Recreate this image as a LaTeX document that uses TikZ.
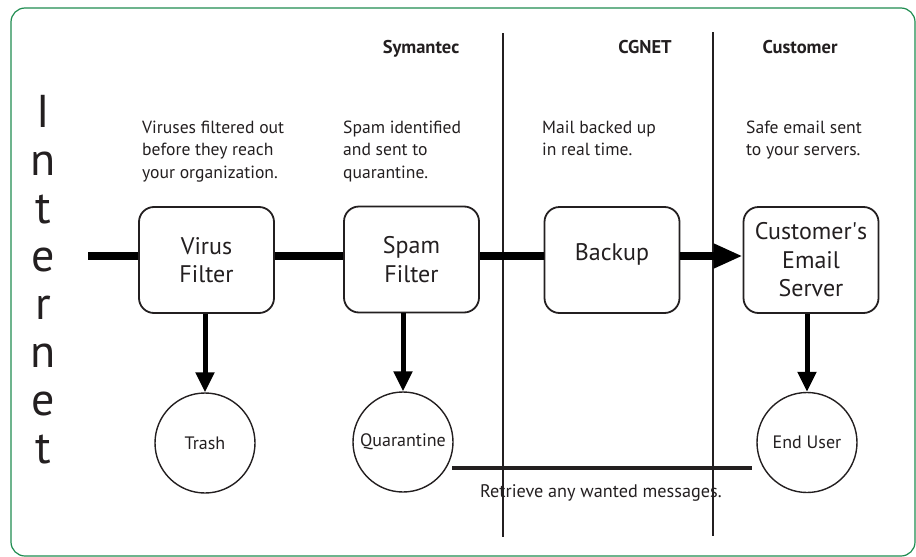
\documentclass[tikz,border=0pt]{standalone}
\usepackage{fontspec}
\setmainfont{PT Sans}
\usetikzlibrary{arrows.meta}
\definecolor{framegreen}{RGB}{30,140,80}
\definecolor{ink}{RGB}{35,31,32}
\begin{document}
\begin{tikzpicture}[x=1pt,y=-1pt,
  proc/.style={draw=ink, line width=1.8pt, rounded corners=15pt, minimum width=135pt, minimum height=106pt, inner sep=0pt, align=center, font=\fontsize{24}{28.5}\selectfont, text=ink},
  sink/.style={circle, draw=ink, line width=1.4pt, minimum size=100pt, inner sep=0pt, font=\fontsize{18}{20}\selectfont, text=ink},
  desc/.style={anchor=base west, align=left, inner sep=0pt, font=\fontsize{17.6}{22.5}\selectfont, text=ink},
  head/.style={anchor=base, inner sep=0pt, font=\fontsize{18.5}{20}\selectfont\bfseries, text=ink},
  flow/.style={line width=8.5pt, draw=black},
  drop/.style={line width=5pt, draw=black, -{Triangle[length=20pt,width=18pt]}},
  lane/.style={line width=1.8pt, draw=ink},
]
\useasboundingbox (0,0) rectangle (916,557);
\draw[framegreen, line width=1.2pt, rounded corners=14pt] (11,8) rectangle (915,556);

% lane separators
\coordinate (v1t) at (503,33); \coordinate (v1b) at (503,537);
\coordinate (v2t) at (713,32); \coordinate (v2b) at (713,536);
\draw[lane] (v1t) -- (v1b);
\draw[lane] (v2t) -- (v2b);

% headers
\node[head] (hsym) at (421,53) {Symantec};
\node[head] (hcg) at (645,53) {CGNET};
\node[head] (hcus) at (800,53) {Customer};

% Internet (anchor base = last line's baseline)
\node[anchor=base, inner sep=0pt, align=center, font=\fontsize{46}{48}\selectfont, text=ink] (inet) at (43,463) {I\\n\\t\\e\\r\\n\\e\\t};

% descriptions (anchor base = last line's baseline)
\node[desc] (d1) at (142,178) {Viruses filtered out\\before they reach\\your organization.};
\node[desc] (d2) at (343,178) {Spam identified\\and sent to\\quarantine.};
\node[desc] (d3) at (542,155.5) {Mail backed up\\in real time.};
\node[desc] (d4) at (746,155.5) {Safe email sent\\to your servers.};

% process boxes
\node[proc] (virus) at (206.5,260) {Virus\\Filter};
\node[proc] (spam) at (411.5,259.5) {Spam\\Filter};
\node[proc, text height=17pt, text depth=17pt] (backup) at (612,260) {Backup};
\node[proc] (cust) at (811,260) {Customer\textquotesingle s\\Email\\Server};

% sinks
\node[sink] (trash) at (205,443) {Trash};
\node[sink] (quar) at (403,442) {Quarantine};
\node[sink] (enduser) at (807,442.5) {End User};

% main flow
\coordinate (start) at (88,256);
\draw[flow] (start) -- (start -| virus.west);
\draw[flow] (start -| virus.east) -- (start -| spam.west);
\draw[flow] (start -| spam.east) -- (start -| backup.west);
\draw[flow, -{Triangle[length=29pt,width=23pt]}] (start -| backup.east) -- (start -| cust.west);

% drops
\draw[drop] (trash.north |- virus.south) -- (trash.north);
\draw[drop] (quar.north |- spam.south) -- (quar.north);
\draw[drop] (enduser.north |- cust.south) -- (enduser.north);

% retrieve line
\coordinate (r1) at (452,468); \coordinate (r2) at (752,468);
\draw[line width=4.5pt, draw=ink] (r1) -- (r2);
\node[anchor=base west, inner sep=0pt, font=\fontsize{18.2}{20}\selectfont, text=ink] (retr) at (480,497) {Retrieve any wanted messages.};
\end{tikzpicture}
\end{document}
